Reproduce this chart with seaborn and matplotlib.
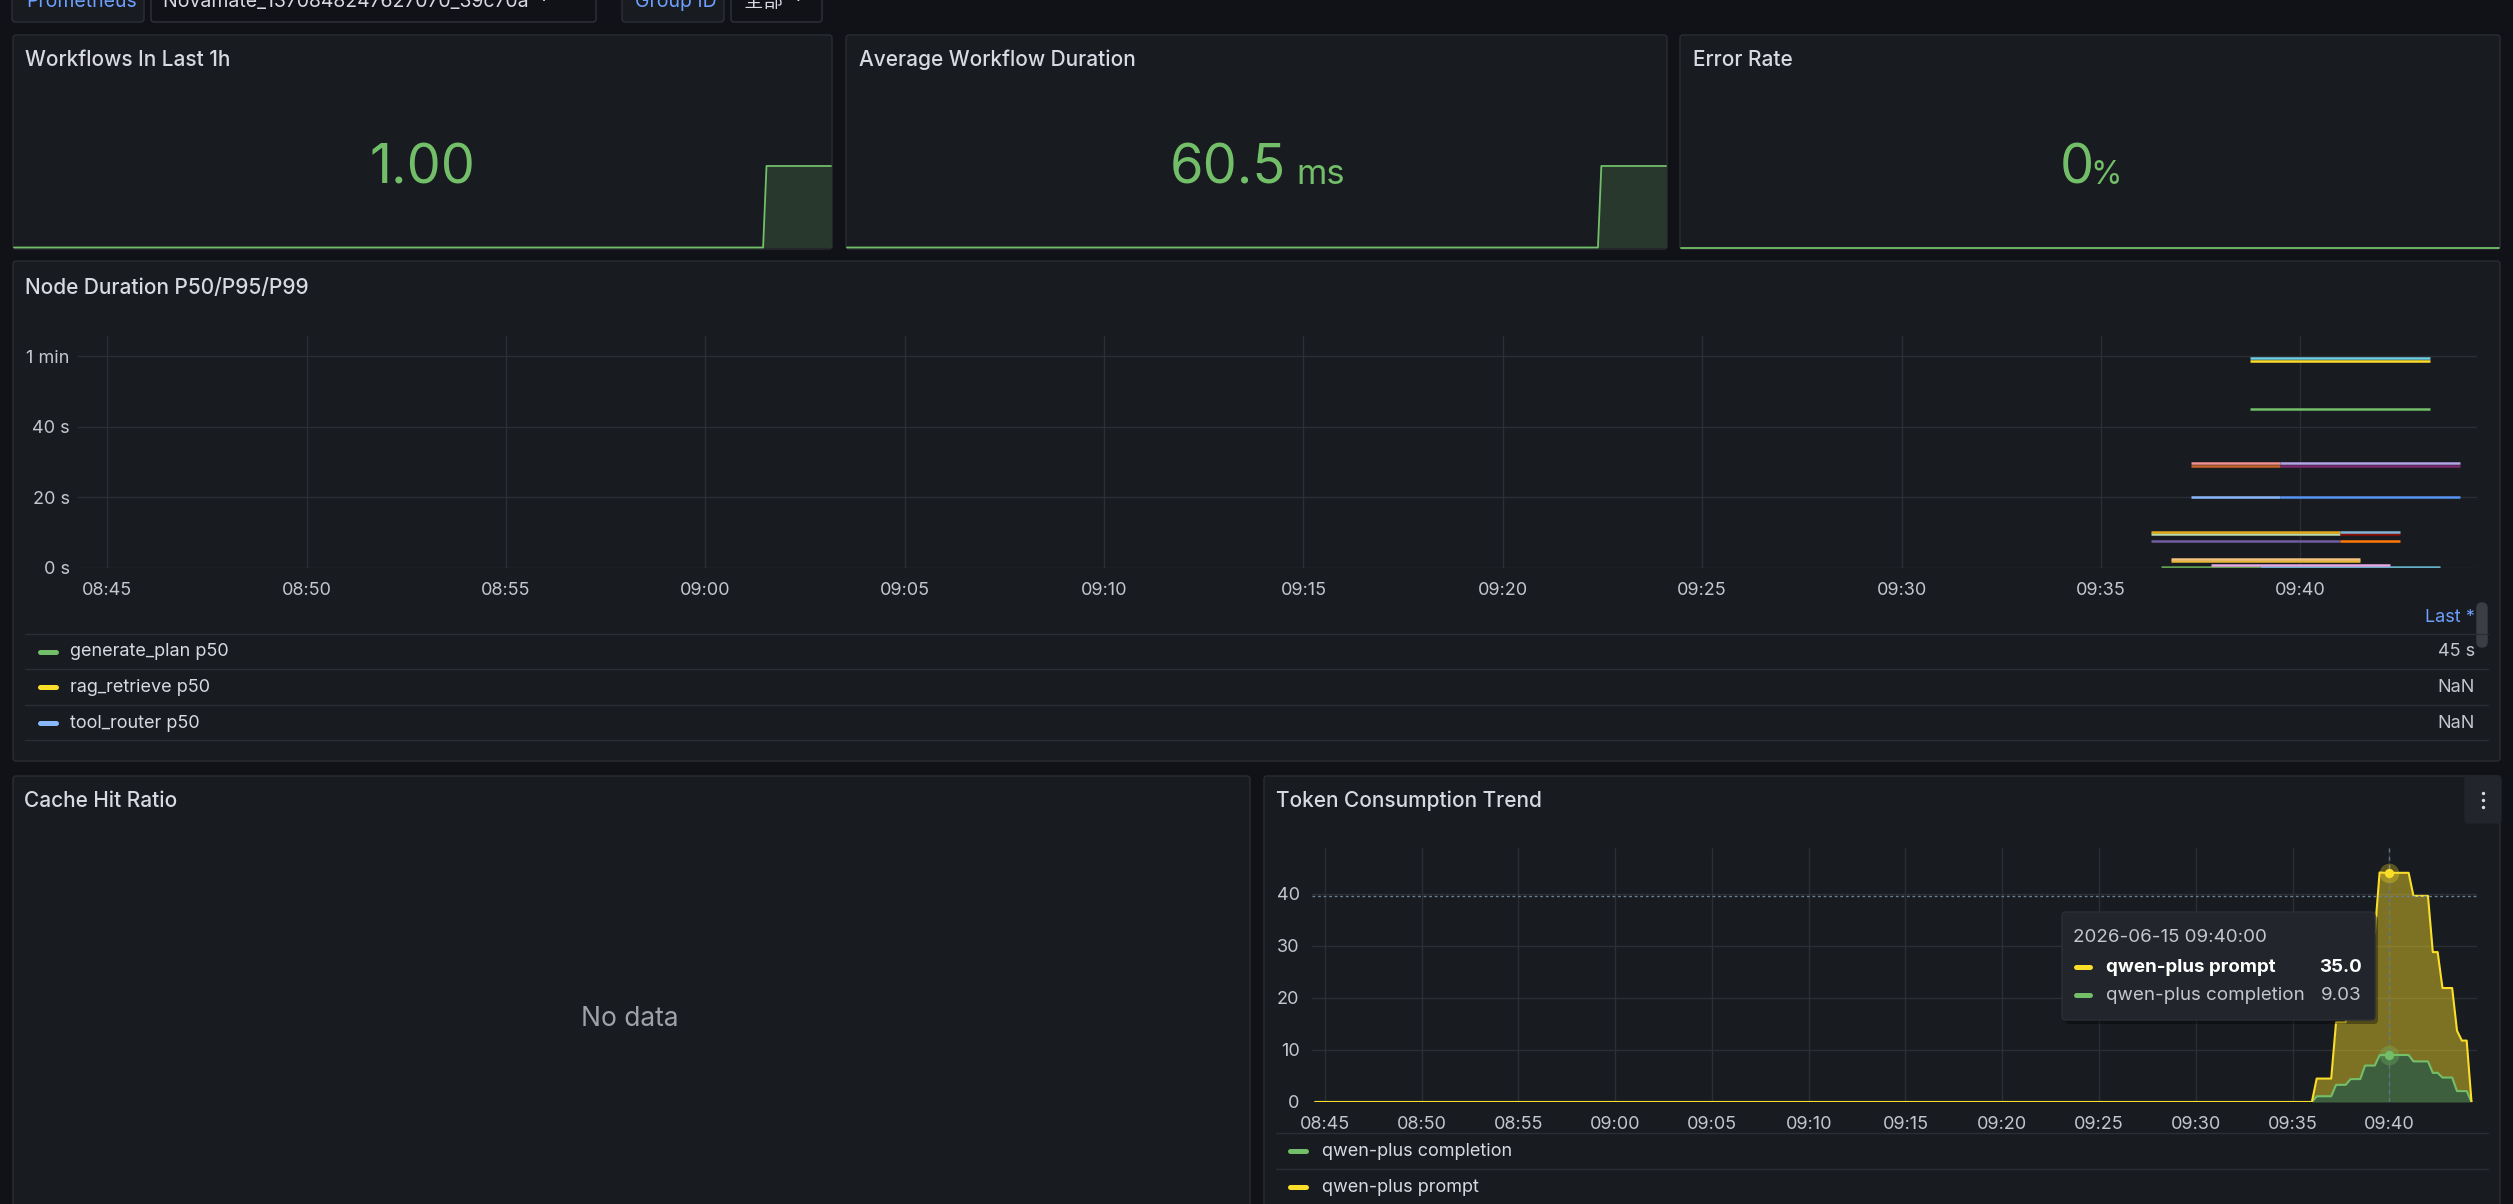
import numpy as np
import pandas as pd
import seaborn as sns
import matplotlib.pyplot as plt
import matplotlib.dates as mdates
from matplotlib.patches import FancyBboxPatch

W, H = 2513, 1204
DAY = "2026-06-15 "

# ---- stat panels (sparklines over last 1h) ----
stat_times = ["08:44:20", "09:39:30", "09:39:45", "09:44:30"]
workflows_last_1h = [0, 0, 1, 1]
avg_workflow_ms = [0, 0, 60.5, 60.5]
error_rate_pct = [0, 0, 0, 0]

# ---- node duration: each series is one flat run ----
node_keys = ["s01", "s02", "s03", "s04", "s05", "s06", "s07", "s08", "s09", "s10",
             "s11", "s12", "s13", "s14", "s15", "s16", "s17", "s18", "s19", "s20"]
node_colors = ["#6ed0e0", "#fade2a", "#73bf69", "#c8642a", "#f29191", "#7a2a6e", "#b4a5e6",
               "#8ab8ff", "#5794f2", "#b7dbab", "#e0a91c", "#890f02", "#82b5d8", "#705da0",
               "#ff780a", "#eab839", "#f4c27f", "#629e51", "#64b0c8", "#e5a8e2"]
node_start = ["09:38:45", "09:38:45", "09:38:45", "09:37:15", "09:37:15", "09:39:30", "09:39:30",
              "09:37:15", "09:39:30", "09:36:15", "09:36:15", "09:41:00", "09:41:00", "09:36:15",
              "09:41:00", "09:36:45", "09:36:45", "09:36:30", "09:39:00", "09:37:45"]
node_end = ["09:43:15", "09:43:15", "09:43:15", "09:39:30", "09:39:30", "09:44:00", "09:44:00",
            "09:39:30", "09:44:00", "09:41:00", "09:41:00", "09:42:30", "09:42:30", "09:41:00",
            "09:42:30", "09:41:30", "09:41:30", "09:39:00", "09:43:30", "09:42:15"]
node_seconds = [59.6, 58.5, 45.0, 28.9, 29.6, 28.9, 29.6,
                20.0, 20.0, 9.6, 10.1, 9.6, 10.1, 7.6,
                7.6, 1.9, 2.5, 0.4, 0.4, 0.9]

legend_names = ["generate_plan p50", "rag_retrieve p50", "tool_router p50"]
legend_colors = ["#73bf69", "#fade2a", "#8ab8ff"]
legend_last = ["45 s", "NaN", "NaN"]

# ---- token consumption (stacked) ----
token_times = ["08:44:30", "09:36:00", "09:36:15", "09:36:30", "09:36:45", "09:37:00",
               "09:37:15", "09:37:30", "09:37:45", "09:38:00", "09:38:15", "09:38:30",
               "09:38:45", "09:39:00", "09:39:15", "09:39:30", "09:39:45", "09:40:00",
               "09:40:15", "09:40:30", "09:40:45", "09:41:00", "09:41:15", "09:41:30",
               "09:41:45", "09:42:00", "09:42:15", "09:42:30", "09:42:45", "09:43:00",
               "09:43:15", "09:43:30", "09:43:45", "09:44:00", "09:44:15"]
completion = [0, 0, 1.1, 1.1, 1.1, 1.1,
              3.3, 3.3, 3.3, 4.4, 4.4, 4.4,
              7.0, 7.0, 7.0, 9.0, 9.03, 9.03,
              9.03, 9.03, 9.03, 9.03, 7.8, 7.8,
              7.8, 7.8, 5.6, 5.6, 4.7, 4.7,
              4.7, 2.1, 2.1, 2.1, 0]
prompt = [0, 0, 3.4, 3.4, 3.4, 3.4,
          12.0, 12.0, 12.0, 19.6, 19.6, 19.6,
          25.3, 25.3, 25.3, 35.1, 35.0, 35.0,
          35.0, 35.0, 35.0, 35.0, 31.8, 31.8,
          31.8, 31.8, 23.2, 23.2, 17.2, 17.2,
          17.2, 11.6, 9.7, 9.7, 0]

# ---- style ----
BG = "#111217"
PANEL = "#181b1f"
BORDER = "#2a2d33"
GRID = "#2b2e34"
TEXT = "#d8d9e3"
MUTED = "#c4c6d0"
GREEN = "#73bf69"
YELLOW = "#fade2a"
LINK = "#6e9fff"

sns.set_theme(style="dark", rc={"figure.facecolor": BG, "axes.facecolor": PANEL,
                                "text.color": TEXT, "xtick.color": MUTED, "ytick.color": MUTED})
plt.rcParams["font.family"] = ["Inter", "Noto Sans CJK SC", "DejaVu Sans"]

ts = lambda t: pd.to_datetime(DAY + t)

fig = plt.figure(figsize=(W / 100, H / 100), dpi=100, facecolor=BG)
base = fig.add_axes([0, 0, 1, 1], zorder=0)
base.set_xlim(0, W)
base.set_ylim(H, 0)
base.axis("off")
top = fig.add_axes([0, 0, 1, 1], zorder=10)
top.set_xlim(0, W)
top.set_ylim(H, 0)
top.axis("off")
top.patch.set_alpha(0)


def box(ax, x0, y0, x1, y1, fc, ec=BORDER, r=3, **kw):
    ax.add_patch(FancyBboxPatch((x0, y0), x1 - x0, y1 - y0,
                                boxstyle=f"round,pad=0,rounding_size={r}",
                                fc=fc, ec=ec, lw=1, **kw))


def add_ax(x0, y0, x1, y1, z=2):
    ax = fig.add_axes([x0 / W, 1 - y1 / H, (x1 - x0) / W, (y1 - y0) / H], zorder=z)
    ax.patch.set_alpha(0)
    return ax


# ---- top variable bar (cut by the top edge, as in the screenshot) ----
box(base, 12, -10, 144, 22, PANEL, "#2c2f36")
box(base, 151, -10, 596, 22, BG, "#2f3239")
box(base, 622, -10, 724, 22, PANEL, "#2c2f36")
box(base, 731, -10, 822, 22, BG, "#2f3239")
base.text(26, 7, "Prometheus", color=LINK, fontsize=14, va="baseline")
base.text(163, 7, "Novamate_1370848247627070_39c70a  ˅", color=TEXT, fontsize=14, va="baseline")
base.text(635, 7, "Group ID", color=LINK, fontsize=14, va="baseline")
base.text(744, 7, "全部  ˅", color=TEXT, fontsize=14, va="baseline")

# ---- panels ----
panels = [(13, 35, 832, 249), (846, 35, 1667, 249), (1680, 35, 2500, 249),
          (13, 261, 2500, 761), (13, 776, 1250, 1215), (1264, 776, 2500, 1215)]
for p in panels:
    box(base, *p, PANEL)

titles = [(25, 60, "Workflows In Last 1h"), (859, 60, "Average Workflow Duration"),
          (1693, 60, "Error Rate"), (25, 288, "Node Duration P50/P95/P99"),
          (24, 801, "Cache Hit Ratio"), (1276, 801, "Token Consumption Trend")]
for x, y, t in titles:
    base.text(x, y, t, color=TEXT, fontsize=15, va="center", fontweight="medium")

# ---- stat panels ----
st = [ts(t) for t in stat_times]
for (x0, _, x1, _), vals in zip(panels[:3], [workflows_last_1h, avg_workflow_ms, error_rate_pct]):
    ax = add_ax(x0 + 1, 166, x1 - 1, 247.5)
    ymax = max(vals) if max(vals) > 0 else 1
    ax.fill_between(st, 0, vals, color=GREEN, alpha=0.18, lw=0)
    sns.lineplot(x=st, y=vals, ax=ax, color=GREEN, lw=1.3, estimator=None)
    for ln in ax.lines:
        ln.set_clip_on(False)
    ax.set_xlim(st[0], st[-1])
    ax.set_ylim(0, ymax)
    ax.axis("off")

big = dict(color=GREEN, va="baseline")
base.text(422, 184, "1.00", fontsize=39, ha="center", **big)
base.text(1286, 184, "60.5", fontsize=39, ha="right", **big)
base.text(1296, 184, "ms", fontsize=25, ha="left", **big)
base.text(2094, 184, "0", fontsize=39, ha="right", **big)
base.text(2090, 184, "%", fontsize=23, ha="left", **big)

# ---- node duration panel ----
x_lo, x_hi = ts("08:44:16"), ts("09:44:26")
seg = pd.DataFrame({
    "key": np.repeat(node_keys, 2),
    "time": [ts(t) for pair in zip(node_start, node_end) for t in pair],
    "value": np.repeat(node_seconds, 2),
})
axn = add_ax(78, 336, 2477, 568)
sns.lineplot(data=seg, x="time", y="value", hue="key", hue_order=node_keys,
             palette=dict(zip(node_keys, node_colors)), estimator=None,
             lw=1.8, legend=False, ax=axn, solid_capstyle="butt")
axn.set_xlim(x_lo, x_hi)
axn.set_ylim(0, 65.7)


def style_time_axis(ax, yticks, ylabels, ypad):
    ax.grid(True, color=GRID, lw=1)
    ax.set_axisbelow(True)
    for s in ax.spines.values():
        s.set_visible(False)
    ax.xaxis.set_major_locator(mdates.MinuteLocator(byminute=range(0, 60, 5)))
    ax.xaxis.set_major_formatter(mdates.DateFormatter("%H:%M"))
    ax.set_yticks(yticks)
    ax.set_yticklabels(ylabels)
    ax.tick_params(axis="x", length=5, color=GRID, pad=5, labelsize=13, labelcolor=MUTED)
    ax.tick_params(axis="y", length=0, pad=ypad, labelsize=13, labelcolor=MUTED)
    ax.set_xlabel("")
    ax.set_ylabel("")


style_time_axis(axn, [0, 20, 40, 60], ["0 s", "20 s", "40 s", "1 min"], 6)

# node legend table
for y in [634, 669, 705, 740]:
    base.plot([25, 2488], [y, y], color=GRID, lw=1)
for y, name, c, last in zip([652, 687, 723], legend_names, legend_colors, legend_last):
    base.plot([40, 55.5], [y, y], color=c, lw=3.6, solid_capstyle="round")
    base.text(70, y, name, color=TEXT, fontsize=13, va="center")
    base.text(2475, y, last, color=MUTED, fontsize=13, va="center", ha="right")
base.text(2475, 617, "Last *", color=LINK, fontsize=13, va="center", ha="right")
box(base, 2477, 603, 2487, 647, "#3b3e44", "#3b3e44", r=5)

# ---- cache hit ratio ----
base.text(630, 1019, "No data", color="#9fa1ab", fontsize=19, ha="center", va="center")

# ---- token consumption ----
tt = [ts(t) for t in token_times]
comp = np.array(completion)
total = comp + np.array(prompt)
axt = add_ax(1312, 848, 2477, 1102)
axt.fill_between(tt, 0, comp, color=GREEN, alpha=0.42, lw=0)
axt.fill_between(tt, comp, total, color=YELLOW, alpha=0.45, lw=0)
sns.lineplot(x=tt, y=comp, ax=axt, color=GREEN, lw=1.5, estimator=None)
sns.lineplot(x=tt, y=total, ax=axt, color=YELLOW, lw=1.5, estimator=None)
axt.set_xlim(ts("08:44:20"), ts("09:44:32"))
axt.set_ylim(0, 48.8)
style_time_axis(axt, [0, 10, 20, 30, 40], ["0", "10", "20", "30", "40"], 9)

hover = ts("09:40:00")
axt.axvline(hover, color="#5f7080", lw=1, ls=(0, (3, 3)))
axt.axhline(39.6, color="#6a7f95", lw=1, ls=(0, (2, 2)))
axt.scatter([hover], [total[17]], s=200, color=YELLOW, alpha=0.3, lw=0, zorder=5)
axt.scatter([hover], [total[17]], s=45, color=YELLOW, lw=0, zorder=6)
axt.scatter([hover], [comp[17]], s=200, color=GREEN, alpha=0.3, lw=0, zorder=5)
axt.scatter([hover], [comp[17]], s=45, color=GREEN, lw=0, zorder=6)

for y in [1133, 1169]:
    base.plot([1276, 2488], [y, y], color=GRID, lw=1)
for y, name, c in zip([1151, 1187], ["qwen-plus completion", "qwen-plus prompt"], [GREEN, YELLOW]):
    base.plot([1290, 1306], [y, y], color=c, lw=3.6, solid_capstyle="round")
    base.text(1322, y, name, color=TEXT, fontsize=13, va="center")

# panel menu button
box(base, 2465, 776, 2501, 823, "#22252b", "#22252b", r=3)
for y in [793, 800, 807]:
    base.scatter([2483], [y], s=6, color=TEXT, lw=0)

# tooltip
box(top, 2065, 916, 2378, 1024, "#000000", "none", r=4, alpha=0.35)
box(top, 2062, 912, 2375, 1020, "#22252b", "#2c2f36", r=4)
top.text(2073, 937, "2026-06-15 09:40:00", color=MUTED, fontsize=13.5, va="center")
top.plot([2076, 2090], [967, 967], color=YELLOW, lw=3.6, solid_capstyle="round")
top.text(2106, 967, "qwen-plus prompt", color="#ffffff", fontsize=13.5, va="center", fontweight="bold")
top.text(2362, 967, f"{prompt[17]:.1f}", color="#ffffff", fontsize=13.5, va="center",
         ha="right", fontweight="bold")
top.plot([2076, 2090], [995, 995], color=GREEN, lw=3.6, solid_capstyle="round")
top.text(2106, 995, "qwen-plus completion", color=MUTED, fontsize=13.5, va="center")
top.text(2362, 995, f"{completion[17]:.2f}", color=MUTED, fontsize=13.5, va="center", ha="right")

fig.savefig("out.png", dpi=100, facecolor=BG)
